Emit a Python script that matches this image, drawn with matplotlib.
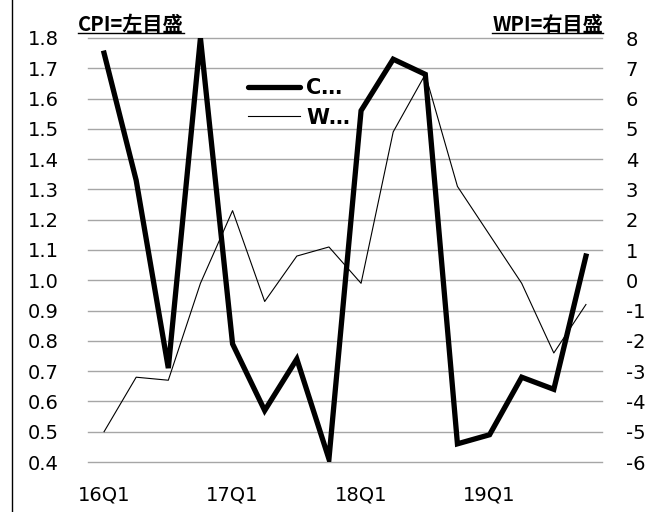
import matplotlib.pyplot as plt
import matplotlib.lines as mlines

quarters = ["16Q1", "16Q2", "16Q3", "16Q4", "17Q1", "17Q2", "17Q3", "17Q4",
            "18Q1", "18Q2", "18Q3", "18Q4", "19Q1", "19Q2", "19Q3", "19Q4"]
cpi = [1.75, 1.33, 0.71, 1.80, 0.79, 0.57, 0.74, 0.41,
       1.56, 1.73, 1.68, 0.46, 0.49, 0.68, 0.64, 1.08]
wpi = [-5.0, -3.2, -3.3, -0.1, 2.3, -0.7, 0.8, 1.1,
       -0.1, 4.9, 6.8, 3.1, 1.5, -0.1, -2.4, -0.8]
left_ticks = [0.4, 0.5, 0.6, 0.7, 0.8, 0.9, 1.0, 1.1, 1.2, 1.3, 1.4, 1.5, 1.6, 1.7, 1.8]
right_ticks = list(range(-6, 9))
shown_quarters = ["16Q1", "17Q1", "18Q1", "19Q1"]

plt.rcParams['font.family'] = ['DejaVu Sans']
jp = ['Noto Sans CJK JP', 'DejaVu Sans']

fig = plt.figure(figsize=(6.52, 5.12), dpi=100)
ax = fig.add_axes([88 / 652, 1 - 462 / 512, 514 / 652, 424 / 512])
ax2 = ax.twinx()

x = list(range(len(quarters)))
ax.plot(x, cpi, color="black", lw=3.8, solid_joinstyle="miter", zorder=3)
ax2.plot(x, wpi, color="black", lw=0.8, zorder=3)

ax.set_xlim(-0.5, len(quarters) - 0.5)
ax.set_ylim(0.4, 1.8)
ax2.set_ylim(-6, 8)
ax.set_yticks(left_ticks)
ax.set_yticklabels([f"{v:.1f}" for v in left_ticks])
ax2.set_yticks(right_ticks)
ax2.set_yticklabels([str(v) for v in right_ticks])
ax.set_xticks([quarters.index(q) for q in shown_quarters])
ax.set_xticklabels(shown_quarters)

ax.grid(axis="y", color="#a6a6a6", lw=1)
for gl in ax.get_ygridlines():
    gl.set_clip_on(False)
ax.set_axisbelow(True)
for a in (ax, ax2):
    for s in a.spines.values():
        s.set_visible(False)
ax.tick_params(axis="y", length=0, pad=21, labelsize=14)
ax2.tick_params(axis="y", length=0, pad=17, labelsize=14)
ax.tick_params(axis="x", length=0, pad=17, labelsize=14)

h1 = mlines.Line2D([], [], color="black", lw=3.8, solid_capstyle="round")
h2 = mlines.Line2D([], [], color="black", lw=0.8)
ax2.legend([h1, h2], ["C…", "W…"], loc="upper left",
           bbox_to_anchor=(0.311, 0.905), frameon=False, handlelength=2.5,
           handletextpad=0.3, labelspacing=0.45, borderpad=0, borderaxespad=0,
           prop={"weight": "bold", "size": 15})

# titles with underline
t1 = fig.text(78 / 652, 1 - 31 / 512, "CPI=左目盛", family=jp, weight="bold", fontsize=14.5)
t2 = fig.text(603 / 652, 1 - 31 / 512, "WPI=右目盛", family=jp, weight="bold",
              fontsize=14.5, ha="right")
fig.canvas.draw()
r = fig.canvas.get_renderer()
for t in (t1, t2):
    bb = t.get_window_extent(r).transformed(fig.transFigure.inverted())
    fig.add_artist(mlines.Line2D([bb.x0, bb.x1], [bb.y0 + 0.004, bb.y0 + 0.004],
                                 color="black", lw=1, transform=fig.transFigure))

fig.add_artist(mlines.Line2D([12 / 652, 12 / 652], [0, 1], color="black", lw=1,
                             transform=fig.transFigure))

fig.savefig("out.png", dpi=100)
